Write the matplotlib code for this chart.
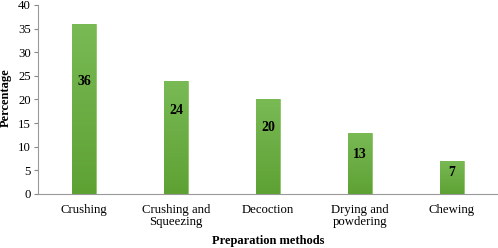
import matplotlib
matplotlib.use("Agg")
import matplotlib.pyplot as plt
import numpy as np
from matplotlib.colors import LinearSegmentedColormap

categories = ["Crushing", "Crushing and\nSqueezing", "Decoction", "Drying and\npowdering", "Chewing"]
values = [36, 24, 20, 13, 7]
yticks = [0, 5, 10, 15, 20, 25, 30, 35, 40]

plt.rcParams['font.family'] = ['Liberation Serif', 'DejaVu Serif']

fig = plt.figure(figsize=(4.98, 2.48), dpi=100)
ax = fig.add_axes([38/498, 1-194/248, 460/498, 189/248])

x = np.arange(len(categories))
bars = ax.bar(x, values, width=0.26, color='#6aab3c', edgecolor='#8cc46a', linewidth=0.6, zorder=2)

cmap = LinearSegmentedColormap.from_list('g', ['#5ea133', '#79ba55'])
grad = np.linspace(0, 1, 256).reshape(-1, 1)
for b in bars:
    x0, w, h = b.get_x(), b.get_width(), b.get_height()
    im = ax.imshow(grad, extent=[x0, x0 + w, 0, h], origin='lower', aspect='auto', cmap=cmap, zorder=3)
    im.set_clip_path(b)

label_frac = [0.66, 0.74, 0.70, 0.64, 0.66]
for xi, v, f in zip(x, values, label_frac):
    ax.text(xi, v * f, str(v), ha='center', va='center', fontsize=10, fontweight='bold', zorder=4)

ax.set_xlim(-0.5, 4.5)
ax.set_ylim(0, 40)
ax.set_yticks(yticks)
ax.set_xticks(x)
ax.set_xticklabels(categories, fontsize=9.2, linespacing=1.05)
ax.tick_params(axis='y', labelsize=9.2, length=3, color='#888888', pad=2)
ax.tick_params(axis='x', length=0, pad=7)
for s in ['top', 'right']:
    ax.spines[s].set_visible(False)
for s in ['left', 'bottom']:
    ax.spines[s].set_color('#999999')
    ax.spines[s].set_linewidth(0.8)

fig.text(6/498, 1-98/248, 'Percentage', rotation=90, ha='center', va='center', fontsize=9, fontweight='bold')
fig.text(268/498, 1-241/248, 'Preparation methods', ha='center', va='center', fontsize=9, fontweight='bold')

fig.savefig('out.png', dpi=100)
